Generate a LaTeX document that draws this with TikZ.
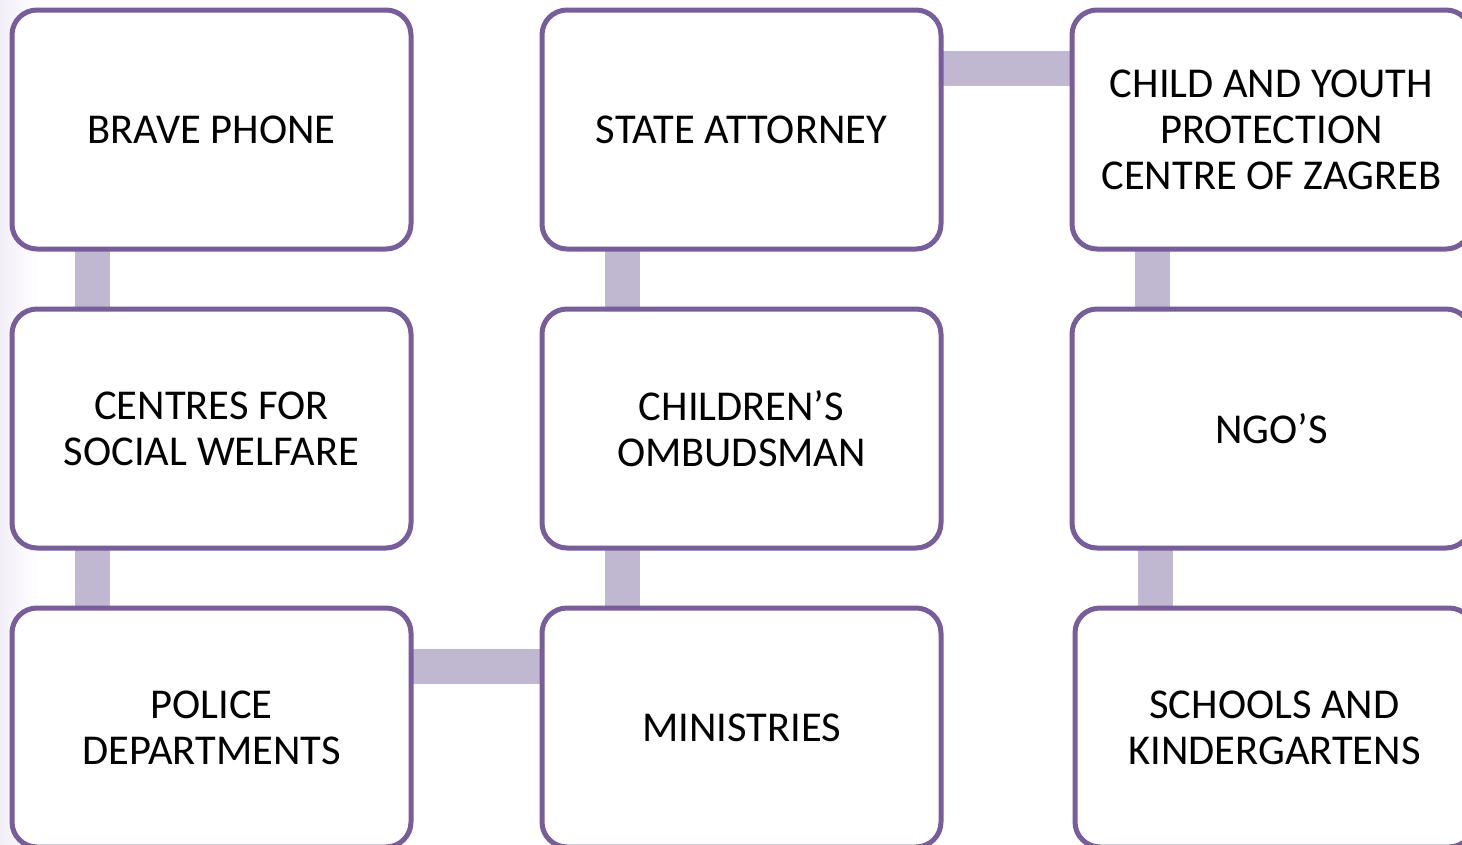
\documentclass[tikz,border=0pt]{standalone}
\usepackage{fontspec}
\setmainfont{Carlito}
\usetikzlibrary{backgrounds}
\definecolor{boxline}{HTML}{775D9A}
\definecolor{barcol}{HTML}{BFB8D0}
\definecolor{bgtint}{HTML}{F3EFF8}
\tikzset{
  orgbox/.style={draw=boxline, line width=5pt, fill=white, rounded corners=25pt,
    minimum width=399pt, minimum height=239pt, inner sep=0pt, outer sep=0pt,
    align=center, font=\fontsize{42.5}{46}\selectfont, text=black},
  bar/.style={draw=barcol, line width=35pt}
}
\begin{document}
\begin{tikzpicture}[x=1pt,y=-1pt]
\useasboundingbox (0,0) rectangle (1462,844);
\clip (0,0) rectangle (1462,844);
% column 1
\node[orgbox] (brave) at (211.5,129.5) {BRAVE PHONE};
\node[orgbox] (csw) at (211.5,428.5) {CENTRES FOR\\SOCIAL WELFARE};
\node[orgbox] (police) at (211.5,727.5) {POLICE\\DEPARTMENTS};
% column 2
\node[orgbox] (state) at (741.5,129.5) {STATE ATTORNEY};
\node[orgbox] (omb) at (741.5,428.5) {CHILDREN’S\\OMBUDSMAN};
\node[orgbox] (min) at (741.5,727.5) {MINISTRIES};
% column 3
\node[orgbox] (cyp) at (1271.5,129.5) {CHILD AND YOUTH\\PROTECTION\\CENTRE OF ZAGREB};
\node[orgbox] (ngo) at (1271.5,428.5) {NGO’S};
\node[orgbox] (schools) at (1274.5,727.5) {SCHOOLS AND\\KINDERGARTENS};
\begin{scope}[on background layer]
\fill[white] (0,0) rectangle (1462,844);
\shade[left color=bgtint, right color=white] (0,0) rectangle (40,844);
\draw[bar] ([xshift=80.5pt]brave.south west) -- ([xshift=80.5pt]brave.south west |- csw.north);
\draw[bar] ([xshift=80.5pt]csw.south west) -- ([xshift=80.5pt]csw.south west |- police.north);
\draw[bar] ([xshift=80.5pt]state.south west) -- ([xshift=80.5pt]state.south west |- omb.north);
\draw[bar] ([xshift=80.5pt]omb.south west) -- ([xshift=80.5pt]omb.south west |- min.north);
\draw[bar] ([xshift=80.5pt]cyp.south west) -- ([xshift=80.5pt]cyp.south west |- ngo.north);
\draw[bar] ([xshift=83pt]ngo.south west) -- ([xshift=83pt]ngo.south west |- schools.north);
\draw[bar] ([yshift=-58.5pt]state.north east) -- ([yshift=-58.5pt]state.north east -| cyp.west);
\draw[bar] ([yshift=-58.5pt]police.north east) -- ([yshift=-58.5pt]police.north east -| min.west);
\end{scope}
\end{tikzpicture}
\end{document}
